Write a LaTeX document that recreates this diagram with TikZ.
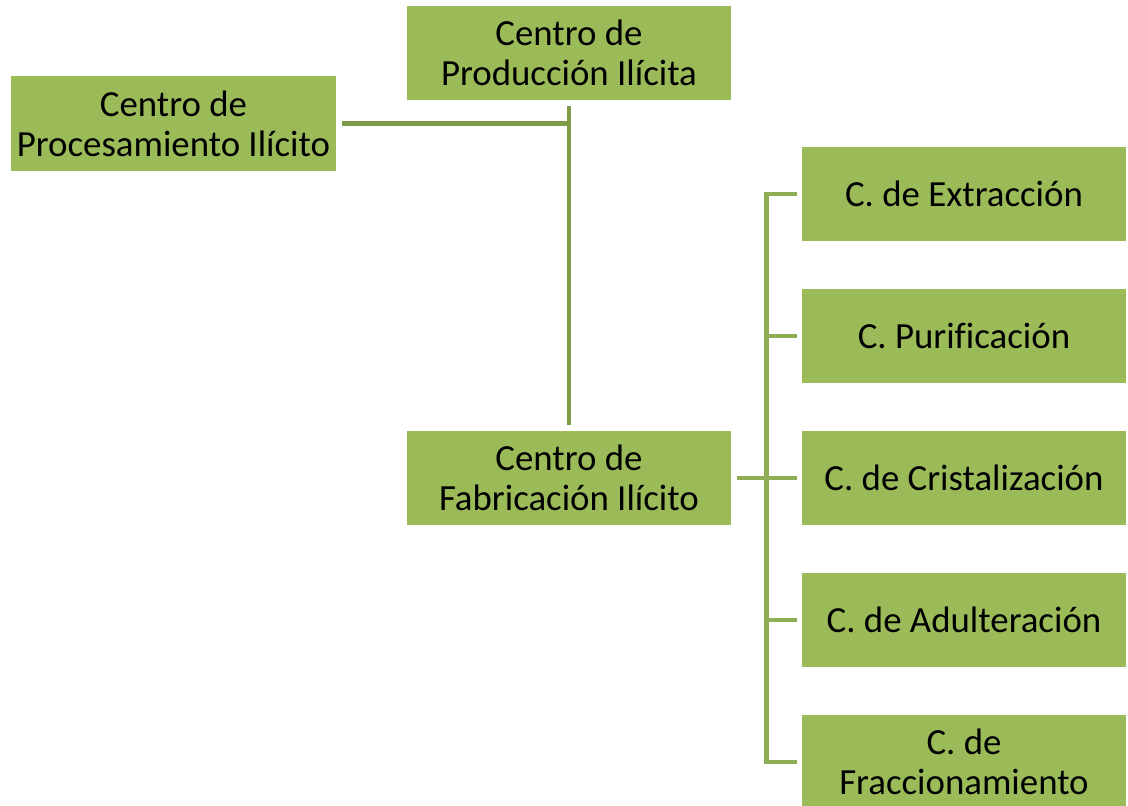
\documentclass[tikz,border=0pt]{standalone}
\usepackage{fontspec}
\setmainfont{Carlito}[Ligatures=NoCommon]
\definecolor{boxgreen}{HTML}{9BBB59}
\definecolor{linedark}{HTML}{7E9B48}
\definecolor{linelight}{HTML}{8FAD55}
\begin{document}
\begin{tikzpicture}[x=0.025cm,y=-0.025cm]
  \def\XMID{569}
  \def\XRIGHT{964}
  \def\YTOP{194}
  \def\YSTEP{142}
  \def\GAP{0.15cm}

  \tikzset{
      greenbox/.style={fill=boxgreen,minimum width=8.1cm,minimum height=2.35cm,
        inner sep=0pt,align=center,font=\fontsize{26.2}{28.5}\selectfont},
      link/.style={line width=3.5pt,line join=miter},
  }

  \useasboundingbox (0,0) rectangle (1128,805);

  \node [greenbox] (prod) at (\XMID,53) {Centro de\\Producción Ilícita};
  \node [greenbox] (proc) at (173.5,123.5) {Centro de\\Procesamiento Ilícito};
  \node [greenbox] (fab) at (\XMID,478) {Centro de\\Fabricación Ilícito};

  \foreach \name/\txt [count=\i from 0] in {ext/{C. de Extracción},
      pur/{C. Purificación}, cri/{C. de Cristalización},
      adu/{C. de Adulteración}, fra/{C. de\\Fraccionamiento}}
    \node [greenbox] (\name) at (\XRIGHT,{\YTOP+\i*\YSTEP}) {\txt};

  % left side
  \coordinate (J1) at (proc.east -| prod.south);
  \draw [link,linedark,shorten <=\GAP] (proc.east) -- (J1);
  \draw [link,linedark,shorten <=\GAP,shorten >=\GAP] (prod) -- (fab);

  % right side
  \coordinate (B1) at ([xshift=-0.875cm]ext.west);
  \coordinate (B2) at ([xshift=-0.875cm]fra.west);
  \draw [link,linelight] ([xshift=-0.125cm]ext.west) -- (B1) -- (B2)
    -- ([xshift=-0.125cm]fra.west);
  \foreach \name in {pur,cri,adu}
    \draw [link,linelight] (\name.west -| B1) -- ([xshift=-0.125cm]\name.west);
  \draw [link,linelight,shorten <=\GAP] (fab.east) -- (fab.east -| B1);
\end{tikzpicture}
\end{document}
